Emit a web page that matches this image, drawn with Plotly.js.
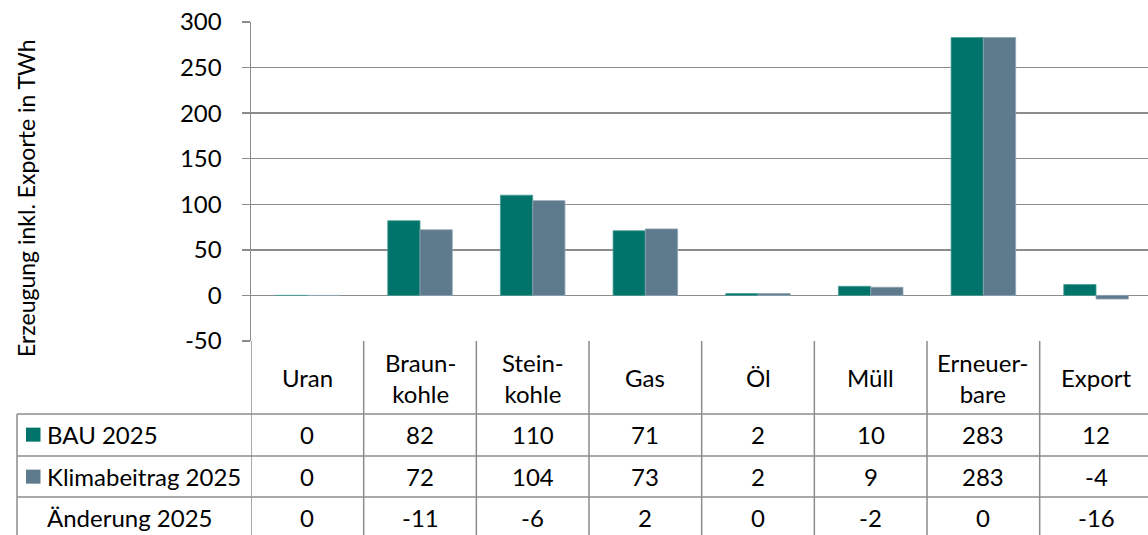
<!DOCTYPE html>
<html>
<head>
<meta charset="utf-8">
<script src="https://cdn.plot.ly/plotly-3.0.1.min.js"></script>
<style>html,body{margin:0;padding:0;background:#fff;overflow:hidden;}#chart{width:1148px;height:535px;}</style>
</head>
<body>
<div id="chart"></div>
<script>
// ---- data ----
const categories = ["Uran", "Braun-<br>kohle", "Stein-<br>kohle", "Gas", "Öl", "Müll", "Erneuer-<br>bare", "Export"];
const seriesNames = ["BAU 2025", "Klimabeitrag 2025", "Änderung 2025"];
const bau2025 = [0, 82, 110, 71, 2, 10, 283, 12];
const klima2025 = [0, 72, 104, 73, 2, 9, 283, -4];
const aenderung2025 = [0, -11, -6, 2, 0, -2, 0, -16];
const yTickVals = [-50, 0, 50, 100, 150, 200, 250, 300];
const yTickText = ["-50", "0", "50", "100", "150", "200", "250", "300"];
const yTitle = "Erzeugung inkl. Exporte in TWh";

// ---- geometry helpers (pixel -> paper) ----
const W = 1148, H = 535;
const px = x => x / W;
const py = y => (H - y) / H;
const FONT = "Lato, 'Open Sans', sans-serif";
const FS = 24;
const GRID = "#8c8c8c";
const COLORS = ["#00746a", "#5e7a8d"];

const idx = categories.map((_, i) => i);

const traces = [
  {type: "bar", x: idx, y: bau2025, name: seriesNames[0],
   marker: {color: COLORS[0], line: {color: "#4c9e96", width: 0.8}}},
  {type: "bar", x: idx, y: klima2025, name: seriesNames[1],
   marker: {color: COLORS[1], line: {color: "#8fa4b2", width: 0.8}}}
];

const rowTop = [414, 456, 497];           // top of each data row (px)
const rowH = 41.3;
const headerCenter = 377.5;
const shapes = [];
const annotations = [];

// vertical column lines below the plot (category boundaries)
for (let i = 0; i <= categories.length; i++) {
  shapes.push({type: "line", xref: "x", yref: "paper", x0: i - 0.5, x1: i - 0.5,
    y0: py(341), y1: -0.01, line: {color: GRID, width: 1.5}});
}
// horizontal row lines
rowTop.forEach(y => shapes.push({type: "line", xref: "paper", yref: "paper",
  x0: px(17), x1: 1, y0: py(y), y1: py(y), line: {color: GRID, width: 1.5}}));
// left border of the row-header column
shapes.push({type: "line", xref: "paper", yref: "paper", x0: px(17), x1: px(17),
  y0: py(414), y1: -0.01, line: {color: GRID, width: 1.5}});

// header (category) labels
categories.forEach((c, i) => annotations.push({xref: "x", yref: "paper", x: i, y: py(headerCenter),
  text: c, showarrow: false, xanchor: "center", yanchor: "middle",
  font: {family: FONT, size: FS, color: "#000"}}));

// table rows
const rows = [bau2025, klima2025, aenderung2025];
rows.forEach((vals, r) => {
  const yc = py(rowTop[r] + rowH / 2);
  annotations.push({xref: "paper", yref: "paper", x: px(45), y: yc, text: seriesNames[r],
    showarrow: false, xanchor: "left", yanchor: "middle",
    font: {family: FONT, size: FS, color: "#000"}});
  vals.forEach((v, i) => annotations.push({xref: "x", yref: "paper", x: i, y: yc,
    text: String(v), showarrow: false, xanchor: "center", yanchor: "middle",
    font: {family: FONT, size: FS, color: "#000"}}));
  if (r < 2) {
    const yc2 = rowTop[r] + rowH / 2;
    shapes.push({type: "rect", xref: "paper", yref: "paper", x0: px(26), x1: px(40.5),
      y0: py(yc2 + 7), y1: py(yc2 - 7), fillcolor: COLORS[r], line: {width: 0}});
  }
});

// y-axis title
annotations.push({xref: "paper", yref: "paper", x: px(26), y: py(198), text: yTitle,
  textangle: -90, showarrow: false, xanchor: "center", yanchor: "middle",
  font: {family: FONT, size: 23, color: "#000"}});

const layout = {
  width: W, height: H,
  margin: {l: 0, r: 0, t: 0, b: 0, pad: 0},
  paper_bgcolor: "#fff", plot_bgcolor: "#fff",
  showlegend: false,
  barmode: "group", bargap: 0.427, bargroupgap: 0,
  font: {family: FONT, size: FS, color: "#000"},
  xaxis: {domain: [px(251), 1], range: [-0.5, -0.5 + 897 / 112.67], showticklabels: false,
    showgrid: false, zeroline: false, showline: false, ticks: "", fixedrange: true},
  yaxis: {domain: [py(341), py(22)], range: [-50, 300],
    tickmode: "array", tickvals: yTickVals, ticktext: yTickText,
    showgrid: true, gridcolor: GRID, gridwidth: 1.5,
    zeroline: true, zerolinecolor: GRID, zerolinewidth: 1.5,
    showline: true, linecolor: GRID, linewidth: 1.5,
    ticks: "outside", ticklen: 8, tickcolor: GRID, tickwidth: 1.5,
    ticklabelstandoff: 15,
    tickfont: {family: FONT, size: FS, color: "#000"}, fixedrange: true},
  shapes: shapes,
  annotations: annotations
};

Plotly.newPlot("chart", traces, layout, {staticPlot: true, displayModeBar: false});
</script>
</body>
</html>
